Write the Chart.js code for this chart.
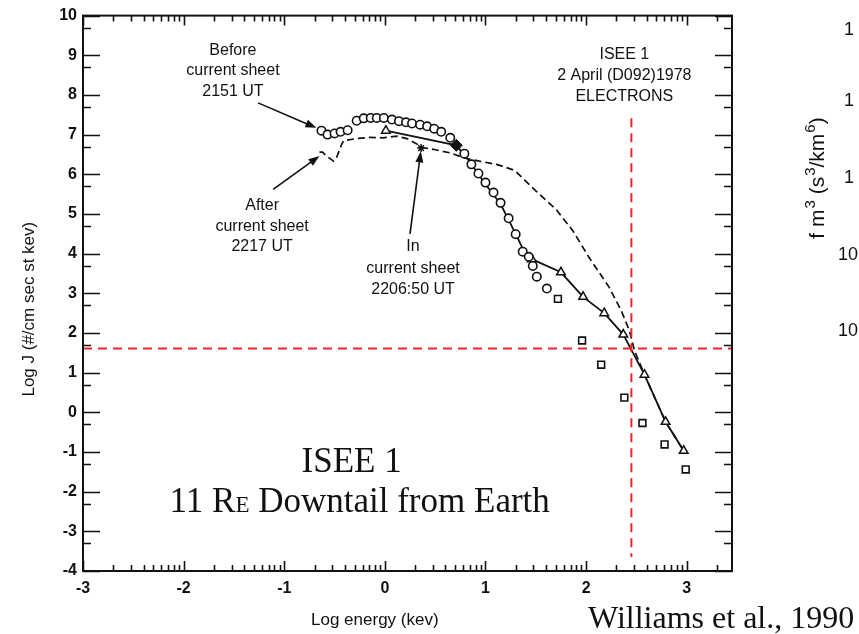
<!DOCTYPE html>
<html>
<head>
<meta charset="utf-8">
<script src="https://cdn.jsdelivr.net/npm/chart.js@4/dist/chart.umd.min.js"></script>
<style>
  html, body { margin: 0; padding: 0; background: #fff; }
  canvas { display: block; }
</style>
</head>
<body>
<canvas id="spec" width="859" height="634"></canvas>
<script>
// ISEE 1 electron spectra, 2 April 1978: log energy (keV) vs log J

// Before current sheet, 2151 UT (open symbols, low-energy channels)
const beforeLogE = [-0.63, -0.57, -0.50, -0.44, -0.37,
  -0.28, -0.21, -0.14, -0.08, -0.01, 0.07, 0.14, 0.21, 0.27, 0.35, 0.42, 0.49, 0.56, 0.65,
  0.79, 0.86, 0.93, 1.00, 1.08, 1.15, 1.23, 1.30, 1.37, 1.43, 1.47, 1.51, 1.61];
const beforeLogJ = [7.10, 7.00, 7.03, 7.07, 7.11,
  7.35, 7.41, 7.42, 7.42, 7.42, 7.38, 7.34, 7.31, 7.28, 7.25, 7.21, 7.15, 7.07, 6.92,
  6.52, 6.25, 6.02, 5.79, 5.54, 5.28, 4.89, 4.49, 4.05, 3.92, 3.69, 3.42, 3.12];

// Before current sheet, high-energy channels (open squares)
const beforeHiLogE = [1.72, 1.96, 2.15, 2.38, 2.56, 2.78, 2.99];
const beforeHiLogJ = [2.86, 1.81, 1.20, 0.37, -0.27, -0.81, -1.44];

// Shared point where the curves meet (filled symbol)
const jointLogE = [0.71];
const jointLogJ = [6.73];

// In current sheet, 2206:50 UT (solid line, triangles on the marked points)
const inSheetLogE = [0.01, 0.71, 0.84, 0.99, 1.15, 1.30, 1.38, 1.46, 1.75, 1.97, 2.18, 2.37, 2.58, 2.79, 2.97];
const inSheetLogJ = [7.10, 6.73, 6.33, 5.78, 5.25, 4.50, 4.07, 3.86, 3.53, 2.91, 2.50, 1.96, 0.95, -0.24, -0.97];
const inSheetMarked = [1, 0, 0, 0, 0, 0, 0, 1, 1, 1, 1, 1, 1, 1, 1];

// After current sheet, 2217 UT (dashed line)
const afterLogE = [-0.65, -0.62, -0.58, -0.51, -0.48, -0.43, -0.41, -0.28, -0.15, -0.02, 0.12, 0.22, 0.30,
  0.38, 0.48, 0.65, 0.78, 0.94, 1.11, 1.29, 1.50, 1.70, 1.87, 2.03, 2.23, 2.35, 2.43, 2.48, 2.58, 2.79, 2.97];
const afterLogJ = [6.56, 6.56, 6.46, 6.33, 6.42, 6.75, 6.85, 6.90, 6.93, 6.92, 6.96, 6.90, 6.79,
  6.67, 6.63, 6.54, 6.42, 6.33, 6.25, 6.10, 5.58, 5.12, 4.57, 3.90, 3.15, 2.56, 2.06, 1.56, 0.95, -0.24, -0.97];

// Star on the dashed curve picked out by the "In current sheet" arrow
const starLogE = [0.36];
const starLogJ = [6.66];

// Red reference cross
const crossLogE = 2.45;
const crossLogJ = 1.61;
const crossTopJ = 7.41;
const crossBottomJ = -3.65;

// Axes
const xMin = -3, xMax = 3.45;
const yMin = -4, yMax = 10;
const xTickVals = [-3, -2, -1, 0, 1, 2, 3];
const yTickVals = [-4, -3, -2, -1, 0, 1, 2, 3, 4, 5, 6, 7, 8, 9, 10];

// Neighbouring panel edge labels
const sideTickLabels = ['1', '1', '1', '10', '10'];

const pts = (xs, ys) => xs.map((v, i) => ({ x: v, y: ys[i] }));

const INK = '#111';
const RED = '#e8262c';
const SANS = '"Liberation Sans", Arial, Helvetica, sans-serif';
const SERIF = '"Liberation Serif", "Times New Roman", serif';

const decor = {
  id: 'decor',
  afterDraw(chart) {
    const { ctx, chartArea: a, scales: { x, y } } = chart;
    const px = v => x.getPixelForValue(v);
    const py = v => y.getPixelForValue(v);
    ctx.save();

    // frame
    ctx.strokeStyle = INK;
    ctx.lineWidth = 2;
    ctx.strokeRect(a.left, a.top, a.right - a.left, a.bottom - a.top);

    // inward tick marks on all four sides
    ctx.lineWidth = 1.6;
    ctx.beginPath();
    for (let d = Math.ceil(xMin); d <= Math.floor(xMax); d++) {
      for (let k = 1; k <= 9; k++) {
        const v = d + Math.log10(k);
        if (v > xMax) break;
        const len = k === 1 ? 10 : 6;
        const xp = Math.round(px(v)) + 0.5;
        ctx.moveTo(xp, a.bottom); ctx.lineTo(xp, a.bottom - len);
        ctx.moveTo(xp, a.top); ctx.lineTo(xp, a.top + len);
      }
    }
    for (let n = yMin; n <= yMax; n++) {
      const yp = Math.round(py(n)) + 0.5;
      ctx.moveTo(a.left, yp); ctx.lineTo(a.left + 17, yp);
      ctx.moveTo(a.right, yp); ctx.lineTo(a.right - 17, yp);
      if (n > yMin) {
        const ym = Math.round(py(n - 0.3)) + 0.5;
        ctx.moveTo(a.left, ym); ctx.lineTo(a.left + 8, ym);
        ctx.moveTo(a.right, ym); ctx.lineTo(a.right - 8, ym);
      }
    }
    ctx.stroke();

    // axis titles
    ctx.fillStyle = INK;
    ctx.font = '17px ' + SANS;
    ctx.textAlign = 'center';
    ctx.textBaseline = 'middle';
    ctx.fillText('Log energy (kev)', px(-0.1), 620);
    ctx.save();
    ctx.translate(29, py(2.6));
    ctx.rotate(-Math.PI / 2);
    ctx.fillText('Log J (#/cm sec st kev)', 0, 0);
    ctx.restore();

    // arrows pointing at the curves
    const arrow = (e1, j1, e2, j2) => {
      const x1 = px(e1), y1 = py(j1), x2 = px(e2), y2 = py(j2);
      const ang = Math.atan2(y2 - y1, x2 - x1);
      const hl = 11, hw = 4;
      ctx.beginPath();
      ctx.moveTo(x1, y1);
      ctx.lineTo(x2 - hl * 0.8 * Math.cos(ang), y2 - hl * 0.8 * Math.sin(ang));
      ctx.lineWidth = 1.6;
      ctx.stroke();
      ctx.beginPath();
      ctx.moveTo(x2, y2);
      ctx.lineTo(x2 - hl * Math.cos(ang) + hw * Math.sin(ang), y2 - hl * Math.sin(ang) - hw * Math.cos(ang));
      ctx.lineTo(x2 - hl * Math.cos(ang) - hw * Math.sin(ang), y2 - hl * Math.sin(ang) + hw * Math.cos(ang));
      ctx.closePath();
      ctx.fill();
    };
    ctx.strokeStyle = INK;
    arrow(-1.26, 7.80, -0.68, 7.17);
    arrow(-1.11, 5.62, -0.65, 6.46);
    arrow(0.25, 4.50, 0.357, 6.58);

    // annotation blocks
    const block = (e, j, lines, step) => {
      ctx.font = '16px ' + SANS;
      ctx.textAlign = 'center';
      ctx.textBaseline = 'middle';
      lines.forEach((s, i) => ctx.fillText(s, px(e), py(j) + i * step));
    };
    block(-1.51, 9.12, ['Before', 'current sheet', '2151 UT'], 20.5);
    block(-1.22, 5.20, ['After', 'current sheet', '2217 UT'], 20.5);
    block(0.28, 4.17, ['In', 'current sheet', '2206:50 UT'], 21.5);
    block(2.38, 9.02, ['ISEE 1', '2 April (D092)1978', 'ELECTRONS'], 21);

    // location caption
    ctx.font = '35px ' + SERIF;
    ctx.textAlign = 'center';
    ctx.textBaseline = 'alphabetic';
    ctx.fillText('ISEE 1', px(-0.33), py(-1.21) + 12);
    const big = '35px ' + SERIF, small = '23px ' + SERIF;
    const parts = [['11 R', big], ['E', small], [' Downtail from Earth', big]];
    let total = 0;
    parts.forEach(([s, f]) => { ctx.font = f; total += ctx.measureText(s).width; });
    let cx = px(-0.25) - total / 2;
    const base = py(-2.21) + 12;
    ctx.textAlign = 'left';
    parts.forEach(([s, f]) => { ctx.font = f; ctx.fillText(s, cx, base); cx += ctx.measureText(s).width; });

    // citation
    ctx.font = '32px ' + SERIF;
    ctx.fillText('Williams et al., 1990', 588, 628);

    // edge of the neighbouring panel
    ctx.font = '18px ' + SANS;
    ctx.textAlign = 'left';
    ctx.textBaseline = 'middle';
    const sideY = [30, 101, 178, 255, 331];
    sideTickLabels.forEach((s, i) => ctx.fillText(s, s.length > 1 ? 838 : 844, sideY[i]));

    // rotated unit label with raised exponents
    const unitParts = [['f m', 0], ['3', 1], [' (s', 0], ['3', 1], ['/km', 0], ['6', 1], [')', 0]];
    const baseFont = '21px ' + SANS, supFont = '15px ' + SANS;
    let uw = 0;
    unitParts.forEach(([s, sup]) => { ctx.font = sup ? supFont : baseFont; uw += ctx.measureText(s).width + (sup ? 1 : 0); });
    ctx.save();
    ctx.translate(824, 178);
    ctx.rotate(-Math.PI / 2);
    ctx.textAlign = 'left';
    ctx.textBaseline = 'alphabetic';
    let ux = -uw / 2;
    unitParts.forEach(([s, sup]) => {
      ctx.font = sup ? supFont : baseFont;
      ctx.fillText(s, ux + (sup ? 1 : 0), sup ? -9 : 0);
      ux += ctx.measureText(s).width + (sup ? 1 : 0);
    });
    ctx.restore();

    ctx.restore();
  }
};

new Chart(document.getElementById('spec'), {
  type: 'scatter',
  data: {
    datasets: [
      {
        label: 'cross-h',
        data: [{ x: xMin, y: crossLogJ }, { x: xMax, y: crossLogJ }],
        showLine: true, borderColor: RED, borderWidth: 2, borderDash: [9, 6], pointRadius: 0
      },
      {
        label: 'cross-v',
        data: [{ x: crossLogE, y: crossTopJ }, { x: crossLogE, y: crossBottomJ }],
        showLine: true, borderColor: RED, borderWidth: 2, borderDash: [9, 6], pointRadius: 0
      },
      {
        label: 'joint',
        data: pts(jointLogE, jointLogJ),
        pointStyle: 'rectRot', pointRadius: 6, backgroundColor: INK, borderColor: INK, borderWidth: 1
      },
      {
        label: 'Before current sheet 2151 UT',
        data: pts(beforeLogE, beforeLogJ),
        pointStyle: 'circle', pointRadius: 4.2, backgroundColor: '#fff', borderColor: INK, borderWidth: 1.6
      },
      {
        label: 'Before current sheet 2151 UT (high)',
        data: pts(beforeHiLogE, beforeHiLogJ),
        pointStyle: 'rect', pointRadius: 4.8, backgroundColor: '#fff', borderColor: INK, borderWidth: 1.6
      },
      {
        label: 'In current sheet 2206:50 UT',
        data: pts(inSheetLogE, inSheetLogJ),
        showLine: true, borderColor: INK, borderWidth: 1.8,
        pointStyle: 'triangle', pointRadius: inSheetMarked.map(m => m ? 5 : 0),
        pointBackgroundColor: '#fff', pointBorderColor: INK, pointBorderWidth: 1.5
      },
      {
        label: 'star',
        data: pts(starLogE, starLogJ),
        pointStyle: 'star', pointRadius: 4, borderColor: INK, borderWidth: 1.5
      },
      {
        label: 'After current sheet 2217 UT',
        data: pts(afterLogE, afterLogJ),
        showLine: true, borderColor: INK, borderWidth: 1.7, borderDash: [7, 4], pointRadius: 0
      }
    ]
  },
  options: {
    responsive: false,
    devicePixelRatio: 1,
    animation: false,
    events: [],
    layout: { padding: { top: 14, right: 127, left: 0, bottom: 0 } },
    plugins: { legend: { display: false }, tooltip: { enabled: false } },
    scales: {
      x: {
        type: 'linear', min: xMin, max: xMax,
        grid: { display: false, drawTicks: false },
        border: { display: false },
        ticks: {
          color: INK, padding: 8, maxRotation: 0, autoSkip: false,
          font: { family: SANS, size: 16, weight: 'bold' },
          callback: v => String(v)
        },
        afterBuildTicks: s => { s.ticks = xTickVals.map(v => ({ value: v })); },
        afterFit: s => { s.height = 63; }
      },
      y: {
        type: 'linear', min: yMin, max: yMax,
        grid: { display: false, drawTicks: false },
        border: { display: false },
        ticks: {
          color: INK, padding: 6, autoSkip: false,
          font: { family: SANS, size: 16, weight: 'bold' },
          callback: v => String(v)
        },
        afterBuildTicks: s => { s.ticks = yTickVals.map(v => ({ value: v })); },
        afterFit: s => { s.width = 83; }
      }
    }
  },
  plugins: [decor]
});
</script>
</body>
</html>
